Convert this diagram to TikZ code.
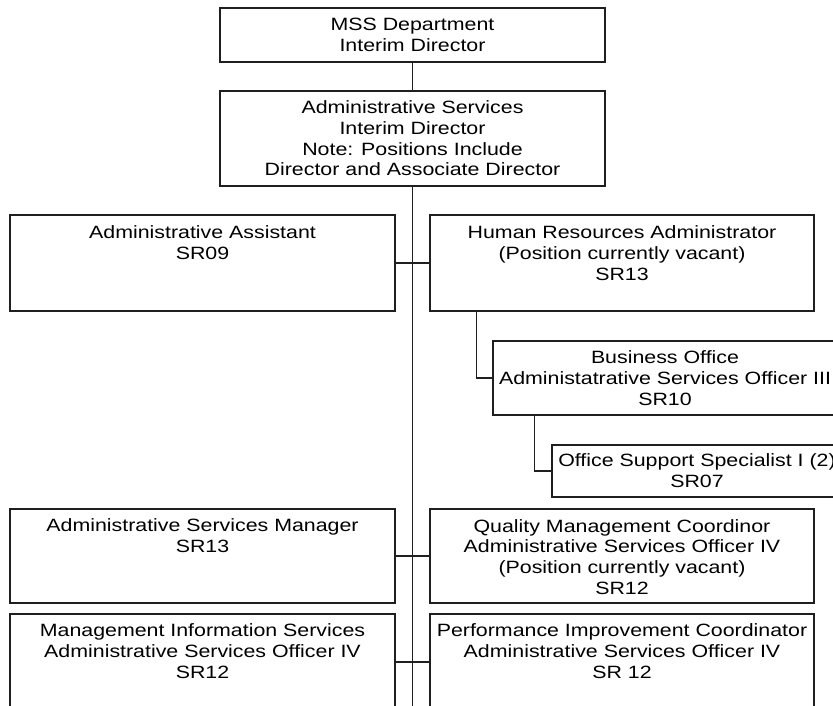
\documentclass[tikz,border=0pt]{standalone}
\usepackage{fontspec}
\setmainfont{Liberation Sans}[FakeStretch=1.2]
% strut giving every text row the same height, centred on the capitals
\newcommand\orgstrut{\rule[-4.15pt]{0pt}{20.8pt}}
\begin{document}
\begin{tikzpicture}[x=1pt,y=-1pt,
  orgbox/.style={draw=black!88, line width=1.35pt, rectangle, inner sep=0pt},
  lbl/.style={align=center, inner sep=0pt, font=\fontsize{17.8}{20.8}\selectfont},
  link/.style={draw=black!88, line width=1.35pt}]
\useasboundingbox (0,0) rectangle (833,706);
\fill[white] (0,0) rectangle (833,706);
\clip (0,0) rectangle (833,706);

% boxes
\node[orgbox, minimum width=385pt, minimum height=54pt] (mss) at (412.5,35) {};
\node[orgbox, minimum width=385pt, minimum height=95pt] (asd) at (412.5,138.5) {};
\node[orgbox, minimum width=385pt, minimum height=96pt] (aa)  at (202.5,263) {};
\node[orgbox, minimum width=384pt, minimum height=96pt] (hra) at (622,263) {};
\node[orgbox, minimum width=347pt, minimum height=74pt] (bo)  at (666.5,378) {};
\node[orgbox, minimum width=293pt, minimum height=52pt] (oss) at (698.5,471) {};
\node[orgbox, minimum width=385pt, minimum height=94pt] (asm) at (202.5,556) {};
\node[orgbox, minimum width=384pt, minimum height=94pt] (qmc) at (622,556) {};
\node[orgbox, minimum width=385pt, minimum height=96pt] (mis) at (202.5,662) {};
\node[orgbox, minimum width=384pt, minimum height=96pt] (pic) at (622,662) {};

% texts
\node[lbl] (tmss) at (412.5,35) {\orgstrut MSS Department\\\orgstrut Interim Director};
\node[lbl] (tasd) at (412.5,138.5) {\orgstrut Administrative Services\\\orgstrut Interim Director\\\orgstrut Note: Positions Include\\\orgstrut Director and Associate Director};
\node[lbl] (taa) at (202.5,243) {\orgstrut Administrative Assistant\\\orgstrut SR09};
\node[lbl] (thra) at (622,253) {\orgstrut Human Resources Administrator\\\orgstrut (Position currently vacant)\\\orgstrut SR13};
\node[lbl] (tbo) at (665,378.5) {\orgstrut Business Office\\\orgstrut Administatrative Services Officer III\\\orgstrut SR10};
\node[lbl] (toss) at (697,471) {\orgstrut Office Support Specialist I (2)\\\orgstrut SR07};
\node[lbl] (tasm) at (202.5,536) {\orgstrut Administrative Services Manager\\\orgstrut SR13};
\node[lbl] (tqmc) at (622,557) {\orgstrut Quality Management Coordinor\\\orgstrut Administrative Services Officer IV\\\orgstrut (Position currently vacant)\\\orgstrut SR12};
\node[lbl] (tmis) at (202.5,651.5) {\orgstrut Management Information Services\\\orgstrut Administrative Services Officer IV\\\orgstrut SR12};
\node[lbl] (tpic) at (622,651.5) {\orgstrut Performance Improvement Coordinator\\\orgstrut Administrative Services Officer IV\\\orgstrut SR 12};

% connectors
\coordinate (trunkend) at (412.5,715);
\draw[link] (mss.south) -- (asd.north);
\draw[link] (asd.south) -- (trunkend);
\draw[link] (aa.east) -- (hra.west);
\draw[link] (asm.east) -- (qmc.west);
\draw[link] (mis.east) -- (pic.west);
\draw[link] ([xshift=47pt]hra.south west) |- (bo.west);
\draw[link] ([xshift=42pt]bo.south west) |- (oss.west);
\end{tikzpicture}
\end{document}
